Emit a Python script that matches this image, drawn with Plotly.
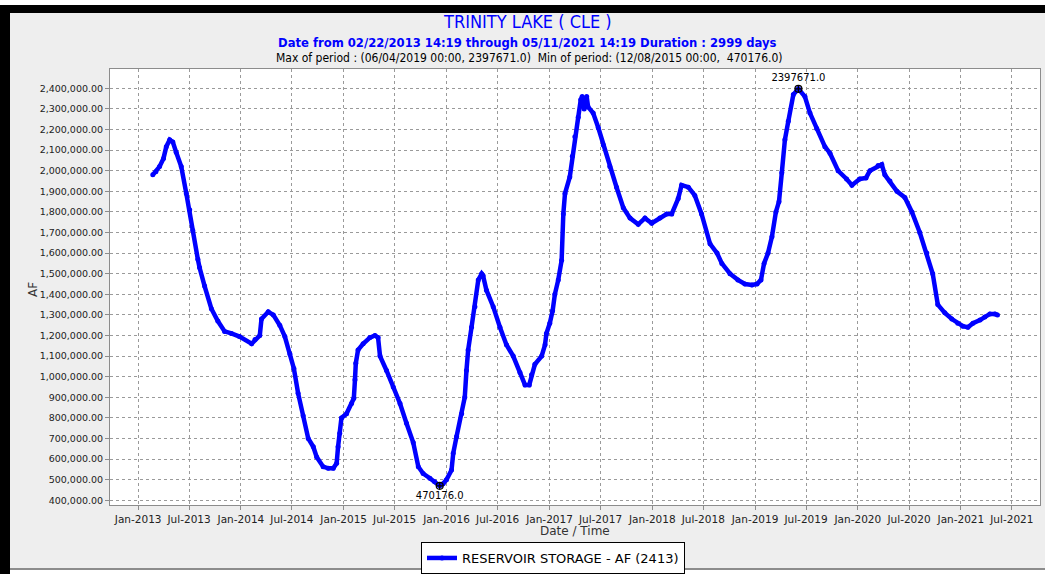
import plotly.graph_objects as go

# Trinity Lake (CLE) reservoir storage, AF
dates = [
    "2013-02-22", "2013-03-05", "2013-03-18", "2013-04-01", "2013-04-11", "2013-04-23",
    "2013-05-04", "2013-05-16", "2013-06-03", "2013-06-21", "2013-07-03", "2013-07-14",
    "2013-08-01", "2013-08-07", "2013-08-25", "2013-09-18", "2013-10-11", "2013-11-04",
    "2013-11-28", "2013-12-27", "2014-02-08", "2014-02-20", "2014-03-09", "2014-03-15",
    "2014-04-08", "2014-04-26", "2014-05-19", "2014-06-06", "2014-06-24", "2014-07-08",
    "2014-07-23", "2014-08-10", "2014-08-28", "2014-09-15", "2014-09-27", "2014-10-20",
    "2014-11-07", "2014-11-25", "2014-12-07", "2014-12-12", "2014-12-18", "2014-12-24",
    "2015-01-11", "2015-01-29", "2015-02-06", "2015-02-10", "2015-02-13", "2015-02-21",
    "2015-03-11", "2015-04-04", "2015-04-22", "2015-05-03", "2015-05-10", "2015-06-02",
    "2015-06-26", "2015-07-20", "2015-08-12", "2015-09-05", "2015-09-23", "2015-10-10",
    "2015-11-03", "2015-11-20", "2015-12-08", "2015-12-20", "2016-01-01", "2016-01-19",
    "2016-01-25", "2016-02-06", "2016-02-24", "2016-03-06", "2016-03-12", "2016-03-18",
    "2016-03-30", "2016-04-11", "2016-04-23", "2016-05-05", "2016-05-10", "2016-05-22",
    "2016-06-15", "2016-07-09", "2016-08-01", "2016-08-25", "2016-09-18", "2016-10-06",
    "2016-10-21", "2016-10-29", "2016-11-10", "2016-12-04", "2016-12-16", "2016-12-21",
    "2017-01-02", "2017-01-12", "2017-01-20", "2017-02-01", "2017-02-13", "2017-02-19",
    "2017-02-25", "2017-03-14", "2017-03-23", "2017-04-01", "2017-04-13", "2017-04-22",
    "2017-04-27", "2017-05-04", "2017-05-13", "2017-05-18", "2017-06-05", "2017-06-23",
    "2017-07-11", "2017-08-03", "2017-08-27", "2017-09-20", "2017-10-14", "2017-11-12",
    "2017-12-06", "2017-12-30", "2018-01-28", "2018-02-21", "2018-03-11", "2018-04-03",
    "2018-04-15", "2018-05-09", "2018-06-01", "2018-06-25", "2018-07-25", "2018-08-19",
    "2018-09-05", "2018-10-04", "2018-11-01", "2018-11-26", "2018-12-21", "2019-01-08",
    "2019-01-22", "2019-02-02", "2019-02-16", "2019-03-02", "2019-03-16", "2019-03-27",
    "2019-04-06", "2019-04-17", "2019-04-29", "2019-05-17", "2019-06-04", "2019-06-27",
    "2019-07-15", "2019-08-08", "2019-09-06", "2019-09-24", "2019-10-23", "2019-11-22",
    "2019-12-11", "2020-01-08", "2020-01-30", "2020-02-13", "2020-03-13", "2020-03-26",
    "2020-04-06", "2020-04-24", "2020-05-19", "2020-06-16", "2020-07-11", "2020-08-08",
    "2020-09-02", "2020-09-23", "2020-10-11", "2020-11-05", "2020-11-30", "2020-12-21",
    "2021-01-08", "2021-01-26", "2021-02-13", "2021-03-10", "2021-03-27", "2021-04-14",
    "2021-05-02", "2021-05-11",
]
storage = [
    1980000, 1995000, 2020000, 2060000, 2117000, 2150000,
    2140000, 2090000, 2020000, 1890000, 1810000, 1710000,
    1570000, 1530000, 1440000, 1330000, 1270000, 1220000,
    1210000, 1195000, 1160000, 1180000, 1200000, 1280000,
    1315000, 1300000, 1250000, 1195000, 1110000, 1040000,
    920000, 810000, 700000, 660000, 610000, 563000,
    555000, 555000, 580000, 660000, 725000, 800000,
    820000, 870000, 895000, 985000, 1065000, 1130000,
    1160000, 1190000, 1200000, 1190000, 1100000, 1030000,
    950000, 870000, 774000, 680000, 563000, 530000,
    507000, 490000, 470176, 480000, 500000, 547000,
    628000, 710000, 820000, 900000, 1030000, 1130000,
    1240000, 1340000, 1470000, 1500000, 1490000, 1420000,
    1340000, 1240000, 1155000, 1100000, 1020000, 960000,
    960000, 1010000, 1060000, 1100000, 1155000, 1210000,
    1260000, 1320000, 1400000, 1470000, 1565000, 1790000,
    1890000, 1970000, 2070000, 2165000, 2260000, 2345000,
    2360000, 2300000, 2360000, 2310000, 2280000, 2210000,
    2125000, 2020000, 1920000, 1820000, 1770000, 1740000,
    1770000, 1745000, 1770000, 1790000, 1790000, 1865000,
    1930000, 1920000, 1880000, 1790000, 1645000, 1600000,
    1550000, 1500000, 1470000, 1450000, 1445000, 1450000,
    1470000, 1550000, 1600000, 1680000, 1800000, 1850000,
    1990000, 2150000, 2240000, 2370000, 2397671, 2360000,
    2280000, 2205000, 2117000, 2085000, 2000000, 1960000,
    1930000, 1960000, 1965000, 2000000, 2025000, 2030000,
    1980000, 1950000, 1900000, 1870000, 1800000, 1700000,
    1600000, 1500000, 1350000, 1310000, 1280000, 1260000,
    1245000, 1240000, 1260000, 1275000, 1290000, 1305000,
    1305000, 1300000,
]

ext_dates = ["2019-06-04", "2015-12-08"]
ext_values = [2397671, 470176]
ext_labels = ["2397671.0", "470176.0"]

title = "TRINITY LAKE ( CLE )"
subtitle = "Date from 02/22/2013 14:19 through 05/11/2021 14:19 Duration : 2999 days"
period_line = ("Max of period : (06/04/2019 00:00, 2397671.0)  "
               "Min of period: (12/08/2015 00:00,  470176.0)")

W, H = 1045, 574
L, R, T, B = 110, 1040, 69, 505   # plot area in pixels


def px(x):
    return (x - L) / (R - L)


def py(y):
    return (B - y) / (B - T)


def frame(x0, y0, x1, y1, color):
    return dict(type="rect", xref="paper", yref="paper", layer="below",
                x0=px(x0), x1=px(x1), y0=py(y0), y1=py(y1),
                fillcolor=color, line=dict(width=0))


def label(text, x, y, font, angle=0):
    return dict(text=text, x=px(x), y=py(y), xref="paper", yref="paper",
                xanchor="center", yanchor="middle", textangle=angle,
                showarrow=False, font=font)


cond = "DejaVu Sans Condensed, Liberation Sans Narrow, DejaVu Sans, sans-serif"
base = "DejaVu Sans, sans-serif"

fig = go.Figure()
fig.add_trace(go.Scatter(
    x=dates, y=storage, mode="lines+markers",
    name="RESERVOIR STORAGE - AF (2413)",
    line=dict(color="#0000ff", width=4.5),
    marker=dict(color="#0000ff", size=5),
))
fig.add_trace(go.Scatter(
    x=ext_dates, y=ext_values, mode="markers+text",
    text=ext_labels, textposition=["top center", "bottom center"],
    textfont=dict(family=base, size=10, color="#000000"),
    marker=dict(symbol="circle-cross-open", color="#000000", size=7, line=dict(width=1.2)),
    showlegend=False,
))

grid = dict(showgrid=True, gridcolor="#9a9a9a", griddash="dot", gridwidth=1,
            showline=True, linecolor="#8c8c8c", linewidth=1, mirror=True,
            ticks="outside", ticklen=4, tickcolor="#8c8c8c", automargin=False,
            zeroline=False)

fig.update_xaxes(range=["2012-09-23", "2021-10-09"], tickformat="%b-%Y",
                 dtick="M6", tick0="2013-01-01",
                 tickfont=dict(family=base, size=10.5, color="#222222"), **grid)
fig.update_yaxes(range=[377000, 2494000], dtick=100000, tick0=0,
                 tickformat=",.2f",
                 tickfont=dict(family=base, size=9.5, color="#222222"), **grid)

fig.update_layout(
    width=W, height=H,
    margin=dict(l=L, r=W - R, t=T, b=H - B, pad=0, autoexpand=False),
    paper_bgcolor="#eeeeee", plot_bgcolor="#ffffff",
    showlegend=True,
    legend=dict(x=px(553), y=py(542), xanchor="center", yanchor="top",
                bgcolor="#ffffff", bordercolor="#000000", borderwidth=1,
                font=dict(family=base, size=13, color="#000000"),
                itemwidth=30, tracegroupgap=0),
    shapes=[
        frame(0, 0, W, 5, "#ffffff"),
        frame(0, 5, W, 13, "#000000"),
        frame(0, 5, 10, H, "#000000"),
        frame(10, 568, W, 570, "#8c8c8c"),
        frame(10, 570, W, H, "#ffffff"),
    ],
    annotations=[
        label(title, 527, 22, dict(family=cond, size=18, color="#0000ff")),
        label("<b>" + subtitle + "</b>", 527, 42, dict(family=cond, size=12.9, color="#0000ff")),
        label(period_line, 529, 58, dict(family=cond, size=12, color="#000000")),
        label("AF", 33, 290, dict(family=base, size=12, color="#333333"), angle=-90),
        label("Date / Time", 575, 531, dict(family=base, size=12, color="#333333")),
    ],
)

fig.write_html("out.html", config={"displayModeBar": False},
               post_script="document.body.style.margin='0px';")
